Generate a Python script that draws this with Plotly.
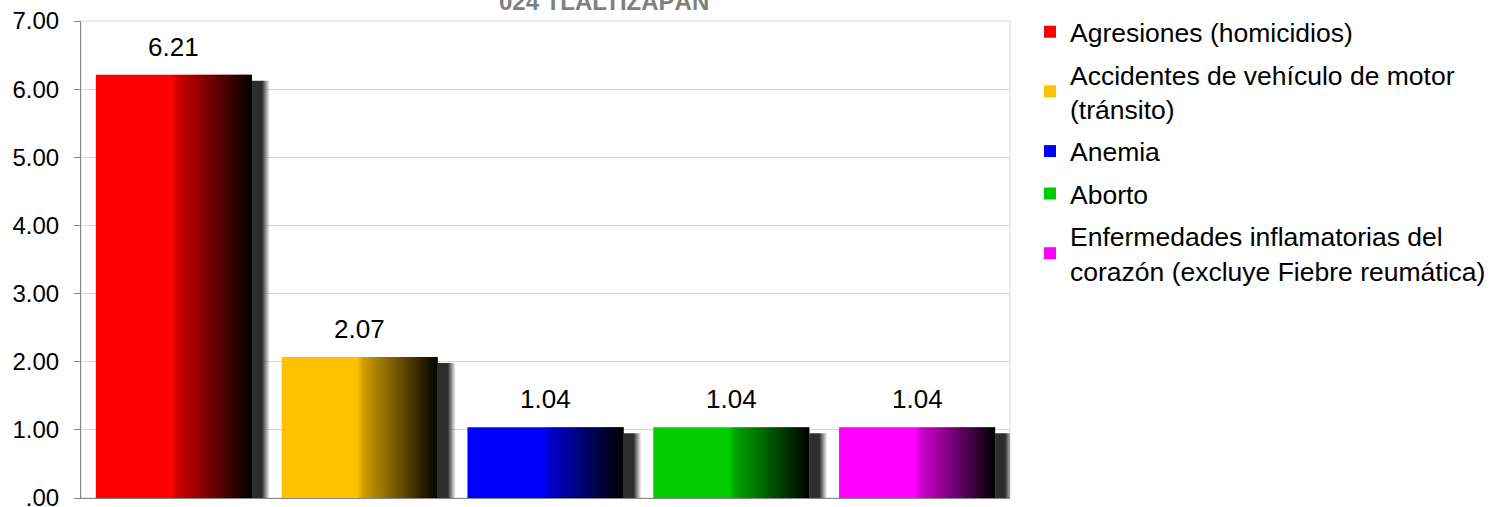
import plotly.graph_objects as go

# ---- data ----
categories = [
    "Agresiones (homicidios)",
    "Accidentes de vehículo de motor<br>(tránsito)",
    "Anemia",
    "Aborto",
    "Enfermedades inflamatorias del<br>corazón (excluye Fiebre reumática)",
]
values = [6.21, 2.07, 1.04, 1.04, 1.04]
value_labels = ["6.21", "2.07", "1.04", "1.04", "1.04"]
bar_colors = ["#FF0000", "#FFC000", "#0000FF", "#00CC00", "#FF00FF"]
tick_values = [0, 1, 2, 3, 4, 5, 6, 7]
tick_labels = [".00", "1.00", "2.00", "3.00", "4.00", "5.00", "6.00", "7.00"]
title_text = "024 TLALTIZAPÁN"

# ---- layout constants (pixels) ----
W, H = 1491, 507
ML, MR, MT, MB = 81, 481, 21, 9
plot_w = W - ML - MR
plot_h = H - MT - MB
y_max = 7
x_range = [-0.5, len(values) - 0.5]
px_x = plot_w / (x_range[1] - x_range[0])   # px per x unit
px_y = plot_h / y_max                       # px per y unit
BAR_W = 0.84

FONT = "Liberation Sans, Arial, sans-serif"

fig = go.Figure()

# real bars (one trace per cause -> legend entries)
for i, (name, v, c) in enumerate(zip(categories, values, bar_colors)):
    fig.add_trace(go.Bar(
        x=[i], y=[v], width=BAR_W, name=name,
        marker=dict(color=c, line=dict(width=0)),
        legendgroup=f"g{i}", hoverinfo="skip",
    ))

# drop shadows to the right of each bar
sh_solid = 10 / px_x
sh_total = 18 / px_x
for i, v in enumerate(values):
    xr = i + BAR_W / 2
    top = v - 6 / px_y
    fig.add_trace(go.Scatter(
        x=[xr, xr + sh_total, xr + sh_total, xr, xr],
        y=[0, 0, top, top, 0],
        mode="none", fill="toself",
        fillgradient=dict(type="horizontal", colorscale=[
            [0, "rgba(45,45,45,1)"],
            [sh_solid / sh_total, "rgba(45,45,45,1)"],
            [1, "rgba(45,45,45,0)"]]),
        showlegend=False, hoverinfo="skip",
    ))

# darkening gradient on the right half of each bar
for i, v in enumerate(values):
    xc = i - 0.01
    xr = i + BAR_W / 2
    fig.add_trace(go.Scatter(
        x=[xc, xr, xr, xc, xc],
        y=[0, 0, v, v, 0],
        mode="none", fill="toself",
        fillgradient=dict(type="horizontal", colorscale=[
            [0, "rgba(0,0,0,0)"],
            [0.06, "rgba(0,0,0,0.18)"],
            [1, "rgba(0,0,0,1)"]]),
        showlegend=False, hoverinfo="skip",
    ))

# value labels
annotations = []
for i, (v, t) in enumerate(zip(values, value_labels)):
    annotations.append(dict(
        x=i, y=v, xref="x", yref="y", text=t, showarrow=False,
        yanchor="middle", yshift=28,
        font=dict(family=FONT, size=26, color="#000000"),
    ))

# title (partially cut at the top, as in the reference)
annotations.append(dict(
    x=(604 - ML) / plot_w, y=1 + MT / plot_h, xref="paper", yref="paper",
    text=f"<b>{title_text}</b>", showarrow=False,
    xanchor="center", yanchor="middle", yshift=-1,
    font=dict(family=FONT, size=24, color="#7F7F7F"),
))

fig.update_layout(
    width=W, height=H,
    margin=dict(l=ML, r=MR, t=MT, b=MB, autoexpand=False),
    paper_bgcolor="white", plot_bgcolor="white",
    barmode="overlay",
    showlegend=True,
    legend=dict(
        xref="container", yref="container",
        x=1030 / W, y=1 - 8 / H, xanchor="left", yanchor="top",
        font=dict(family=FONT, size=26.5, color="#000000"),
        tracegroupgap=5, bgcolor="rgba(0,0,0,0)",
        maxheight=490,
        itemclick=False, itemdoubleclick=False,
    ),
    xaxis=dict(
        range=x_range, showticklabels=False, showgrid=False,
        zeroline=False, showline=True, linecolor="#868686", linewidth=1,
        ticks="", fixedrange=True,
    ),
    yaxis=dict(
        range=[0, y_max], tickvals=tick_values, ticktext=tick_labels,
        showgrid=True, gridcolor="#D9D9D9", gridwidth=1,
        zeroline=False, showline=True, linecolor="#868686", linewidth=1,
        ticks="outside", ticklen=6, tickcolor="#868686",
        ticklabelstandoff=10, ticklabeloverflow="allow",
        tickfont=dict(family=FONT, size=24, color="#000000"),
        fixedrange=True,
    ),
    annotations=annotations,
    shapes=[dict(type="rect", xref="paper", yref="paper", x0=0, x1=1, y0=0, y1=1,
                 line=dict(color="#D9D9D9", width=1), layer="below")],
    hovermode=False,
)

fig.write_html(
    "out.html",
    config={"displayModeBar": False},
    post_script="document.body.style.margin='0';document.body.style.overflow='hidden';",
)
